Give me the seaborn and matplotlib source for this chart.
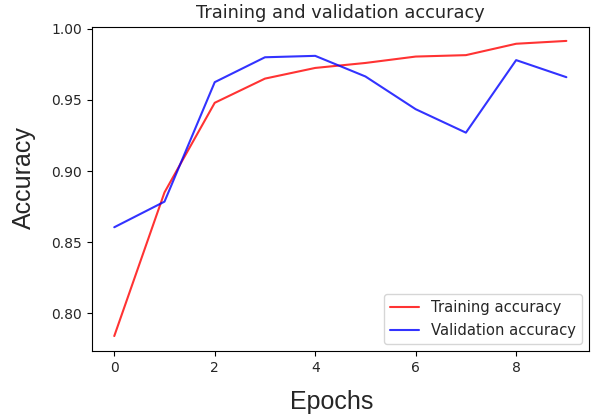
import matplotlib
matplotlib.use("Agg")
import matplotlib.pyplot as plt
import seaborn as sns

# ---------------------------------------------------
# Data
# ---------------------------------------------------

epochs = [0, 1, 2, 3, 4, 5, 6, 7, 8, 9]

train_acc = [0.784, 0.885, 0.948, 0.965, 0.9725, 0.976, 0.9805, 0.9815, 0.9895, 0.9915]
val_acc = [0.8605, 0.8785, 0.9625, 0.980, 0.981, 0.9665, 0.9435, 0.927, 0.978, 0.966]

# ---------------------------------------------------
# Plot
# ---------------------------------------------------

sns.set_style("white")
plt.rcParams["font.family"] = ["DejaVu Sans"]

fig = plt.figure(figsize=(6.01, 4.19), dpi=100)
ax = fig.add_axes([0.1525, 0.1623, 0.8275, 0.774])

sns.lineplot(x=epochs, y=train_acc, color="red", alpha=0.8, linewidth=1.5,
             label="Training accuracy", ax=ax)
sns.lineplot(x=epochs, y=val_acc, color="blue", alpha=0.8, linewidth=1.5,
             label="Validation accuracy", ax=ax)

ax.set_title("Training and validation accuracy", fontsize=12.8)

# axis labels are drawn in an Arial-like face
label_font = {"family": "Liberation Sans", "size": 18}
ax.set_xlabel("Epochs", fontdict=label_font, labelpad=11)
ax.set_ylabel("Accuracy", fontdict=label_font, labelpad=11)
ax.xaxis.label.set_x(0.4825)
ax.yaxis.label.set_y(0.535)

ax.set_xticks([0, 2, 4, 6, 8])
ax.set_yticks([0.80, 0.85, 0.90, 0.95, 1.00])
ax.set_ylim(0.7735, 1.0015)
ax.set_xlim(-0.45, 9.45)
ax.tick_params(axis="both", labelsize=10, length=3.5, direction="out",
               left=True, bottom=True, color="black")

for spine in ax.spines.values():
    spine.set_color("black")
    spine.set_linewidth(0.8)

ax.legend(loc="lower right", fontsize=10.6)

fig.savefig("out.png", dpi=100)
